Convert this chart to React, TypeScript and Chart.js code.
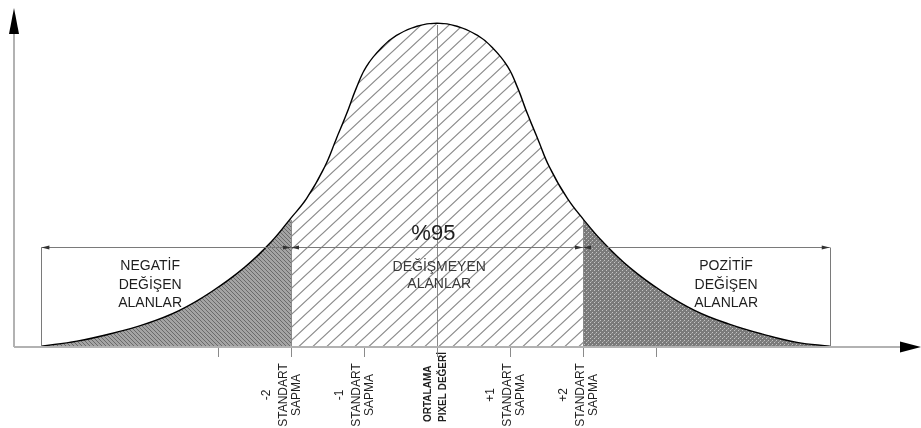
import React, { useEffect, useRef } from 'react';
import { Chart, registerables } from 'chart.js';
Chart.register(...registerables);

// Curve: x in standard deviations from the mean, y relative height (peak = 1)
const sigmaX = [-5.42, -4.93, -4.47, -4.01, -3.53, -3.08, -2.63, -2.26, -2.0, -1.78, -1.53, -1.37, -1.23, -1.1, -0.96, -0.75, -0.55, -0.27, 0, 0.27, 0.55, 0.75, 0.96, 1.1, 1.23, 1.37, 1.53, 1.78, 2.0, 2.26, 2.63, 3.08, 3.53, 4.01, 4.47, 4.93, 5.38];
const density = [0, 0.016, 0.039, 0.068, 0.111, 0.17, 0.245, 0.325, 0.396, 0.458, 0.557, 0.644, 0.721, 0.799, 0.867, 0.926, 0.963, 0.991, 1.0, 0.991, 0.963, 0.926, 0.867, 0.799, 0.721, 0.644, 0.557, 0.458, 0.393, 0.325, 0.245, 0.17, 0.111, 0.068, 0.037, 0.012, 0];

const tickValues = [-3, -2, -1, 0, 1, 2, 3];
const tickLabels: string[][] = [
  [],
  ['-2', 'STANDART', 'SAPMA'],
  ['-1', 'STANDART', 'SAPMA'],
  ['ORTALAMA', 'PIXEL DEĞERİ'],
  ['+1', 'STANDART', 'SAPMA'],
  ['+2', 'STANDART', 'SAPMA'],
  [],
];
const regionLabels: string[][] = [
  ['NEGATİF', 'DEĞİŞEN', 'ALANLAR'],
  ['DEĞİŞMEYEN', 'ALANLAR'],
  ['POZİTİF', 'DEĞİŞEN', 'ALANLAR'],
];
const confidenceLabel = '%95';
const boundary = 2;
const dimensionLevel = 0.31;

const FONT = '"Liberation Sans", Arial, sans-serif';

function makePattern(w: number, h: number, draw: (c: CanvasRenderingContext2D) => void) {
  const cv = document.createElement('canvas');
  cv.width = w;
  cv.height = h;
  const c = cv.getContext('2d')!;
  draw(c);
  return c.createPattern(cv, 'repeat')!;
}

export default function App() {
  const ref = useRef<HTMLCanvasElement | null>(null);

  useEffect(() => {
    if (!ref.current) return;
    const ctx0 = ref.current.getContext('2d')!;

    const midPattern = makePattern(14, 13, (c) => {
      c.fillStyle = '#ffffff';
      c.fillRect(0, 0, 14, 13);
      c.strokeStyle = '#8c8c8c';
      c.lineWidth = 1.2;
      c.beginPath();
      c.moveTo(-14, 26); c.lineTo(28, -13);
      c.moveTo(-14, 13); c.lineTo(14, -13);
      c.moveTo(0, 26); c.lineTo(28, 0);
      c.stroke();
    });
    const leftPattern = makePattern(4, 4, (c) => {
      c.fillStyle = '#a4a4a4';
      c.fillRect(0, 0, 4, 4);
      c.strokeStyle = '#6a6a6a';
      c.lineWidth = 1;
      c.beginPath();
      c.moveTo(-1, -1); c.lineTo(5, 5);
      c.stroke();
    });
    const rightPattern = makePattern(4, 4, (c) => {
      c.fillStyle = '#7a7a7a';
      c.fillRect(0, 0, 4, 4);
      c.fillStyle = '#c4c4c4';
      c.fillRect(0, 0, 1, 1);
      c.fillRect(2, 2, 1, 1);
      c.fillStyle = '#9a9a9a';
      c.fillRect(3, 1, 1, 1);
    });

    const pts = sigmaX.map((x, i) => ({ x, y: density[i] }));
    const leftPts = pts.filter((p) => p.x <= -boundary);
    const midPts = pts.filter((p) => p.x >= -boundary && p.x <= boundary);
    const rightPts = pts.filter((p) => p.x >= boundary);
    const valAt = (v: number) => {
      const i = sigmaX.indexOf(v);
      return i >= 0 ? density[i] : 0;
    };

    const arrow = (c: CanvasRenderingContext2D, tx: number, ty: number, dir: number, len: number, half: number, horizontal: boolean) => {
      c.beginPath();
      if (horizontal) {
        c.moveTo(tx, ty);
        c.lineTo(tx - dir * len, ty - half);
        c.lineTo(tx - dir * len, ty + half);
      } else {
        c.moveTo(tx, ty);
        c.lineTo(tx - half, ty - dir * len);
        c.lineTo(tx + half, ty - dir * len);
      }
      c.closePath();
      c.fill();
    };

    const overlay = {
      id: 'overlay',
      afterDatasetsDraw(chart: any) {
        const { ctx, scales } = chart;
        const xs = scales.x, ys = scales.y;
        const px = (v: number) => xs.getPixelForValue(v);
        const py = (v: number) => ys.getPixelForValue(v);
        const base = py(0);
        ctx.save();

        // vertical guide lines and ticks
        ctx.strokeStyle = '#8a8a8a';
        ctx.lineWidth = 1;
        tickValues.forEach((v) => {
          const top = v === 0 || Math.abs(v) === boundary ? py(valAt(v)) + 1 : base;
          const x = Math.round(px(v)) + 0.5;
          ctx.beginPath();
          ctx.moveTo(x, top);
          ctx.lineTo(x, base + 10);
          ctx.stroke();
        });

        // dimension line and box sides
        const dimY = Math.round(py(dimensionLevel)) + 0.5;
        const x0 = px(sigmaX[0]);
        const x1 = px(sigmaX[sigmaX.length - 1]);
        ctx.strokeStyle = '#7a7a7a';
        ctx.beginPath();
        ctx.moveTo(x0, dimY); ctx.lineTo(x1, dimY);
        ctx.moveTo(Math.round(x0) + 0.5, dimY); ctx.lineTo(Math.round(x0) + 0.5, base);
        ctx.moveTo(Math.round(x1) + 0.5, dimY); ctx.lineTo(Math.round(x1) + 0.5, base);
        ctx.stroke();
        ctx.fillStyle = '#333';
        const bl = px(-boundary), br = px(boundary);
        arrow(ctx, x0, dimY, -1, 8, 2, true);
        arrow(ctx, bl, dimY, 1, 8, 2, true);
        arrow(ctx, bl, dimY, -1, 8, 2, true);
        arrow(ctx, br, dimY, 1, 8, 2, true);
        arrow(ctx, br, dimY, -1, 8, 2, true);
        arrow(ctx, x1, dimY, 1, 8, 2, true);

        // region labels
        ctx.textAlign = 'center';
        ctx.textBaseline = 'middle';
        ctx.fillStyle = '#1e1e1e';
        ctx.font = `14px ${FONT}`;
        regionLabels[0].forEach((t, i) => ctx.fillText(t, px(-3.93), dimY + 19 + i * 18.5));
        regionLabels[2].forEach((t, i) => ctx.fillText(t, px(3.96), dimY + 19 + i * 18.5));
        ctx.fillStyle = '#3a3a3a';
        regionLabels[1].forEach((t, i) => ctx.fillText(t, px(0.03), dimY + 20 + i * 17));
        ctx.fillStyle = '#1e1e1e';
        ctx.font = `22px ${FONT}`;
        ctx.fillText(confidenceLabel, px(-0.05), dimY - 14);

        // tick labels (rotated)
        tickValues.forEach((v, i) => {
          const lines = tickLabels[i];
          if (!lines.length) return;
          const x = px(v);
          if (v === 0) {
            ctx.font = `bold 10px ${FONT}`;
            ctx.textAlign = 'left';
            const offs = [-9, 6];
            lines.forEach((t, j) => {
              ctx.save();
              ctx.translate(x + offs[j], base + 75);
              ctx.rotate(-Math.PI / 2);
              ctx.fillText(t, 0, 0);
              ctx.restore();
            });
          } else {
            ctx.font = `12px ${FONT}`;
            ctx.textAlign = 'center';
            const shift = v < 0 ? -7 : -2;
            const offs = [-17, 0, 13];
            lines.forEach((t, j) => {
              ctx.save();
              ctx.translate(x + shift + offs[j], base + 48);
              ctx.rotate(-Math.PI / 2);
              ctx.fillText(t, 0, 0);
              ctx.restore();
            });
          }
        });

        // axes
        ctx.strokeStyle = '#b2b2b2';
        ctx.lineWidth = 2;
        ctx.beginPath();
        ctx.moveTo(xs.left, base);
        ctx.lineTo(xs.right - 18, base);
        ctx.moveTo(xs.left, base);
        ctx.lineTo(xs.left, ys.top + 22);
        ctx.stroke();
        ctx.fillStyle = '#000';
        arrow(ctx, xs.right, base, 1, 21, 5.5, true);
        arrow(ctx, xs.left, ys.top, -1, 26, 5, false);
        ctx.restore();
      },
    };

    const common = { borderColor: 'transparent', borderWidth: 0, pointRadius: 0, tension: 0.4, fill: 'origin' };
    const chart = new Chart(ctx0, {
      type: 'line',
      data: {
        datasets: [
          { ...common, data: leftPts, backgroundColor: leftPattern },
          { ...common, data: midPts, backgroundColor: midPattern },
          { ...common, data: rightPts, backgroundColor: rightPattern },
          { data: pts, fill: false, borderColor: '#000', borderWidth: 2.8, pointRadius: 0, tension: 0.4 },
        ],
      } as any,
      options: {
        responsive: false,
        animation: false,
        events: [],
        layout: { padding: { left: 14, top: 8, right: 0, bottom: 81 } },
        plugins: { legend: { display: false }, tooltip: { enabled: false } },
        scales: {
          x: { type: 'linear', min: -5.795, max: 6.63, display: false },
          y: { type: 'linear', min: 0, max: 1.0495, display: false },
        },
      },
      plugins: [overlay],
    });
    return () => chart.destroy();
  }, []);

  return (
    <div style={{ position: 'fixed', left: 0, top: 0, width: 921, height: 428, background: '#fff' }}>
      <canvas ref={ref} width={921} height={428} style={{ display: 'block', width: 921, height: 428 }} />
    </div>
  );
}
